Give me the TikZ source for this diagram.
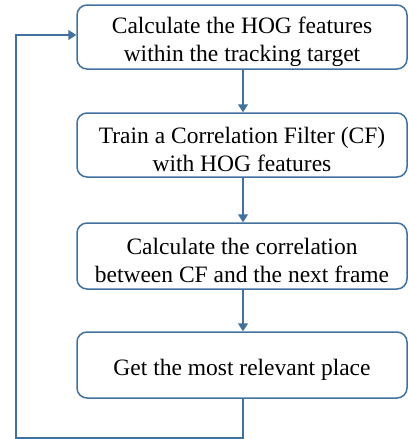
\documentclass[tikz,border=0pt]{standalone}
\usepackage{fontspec}
\setmainfont{Liberation Serif}
\usetikzlibrary{arrows.meta}
\definecolor{boxblue}{HTML}{41719C}
\newcommand\mydn{\rule{0pt}{26pt}}
\begin{document}
\begin{tikzpicture}[x=1pt,y=1pt,
  stepbox/.style={draw=boxblue,line width=1.5pt,rounded corners=10pt,minimum width=330pt,minimum height=64pt,align=center,inner sep=0pt,font=\fontsize{23.5}{28}\selectfont},
  conn/.style={draw=boxblue,line width=1.5pt,-{Triangle[width=10pt,length=8pt]}}]
\useasboundingbox (0,0) rectangle (408,-439);
\node[stepbox] (a) at (242,-37) {\mydn Calculate the HOG features\\within the tracking target};
\node[stepbox] (b) at (242,-145) {\mydn Train a Correlation Filter (CF)\\with HOG features};
\node[stepbox,minimum height=66pt] (c) at (242,-256) {\mydn Calculate the correlation\\between CF and the next frame};
\node[stepbox,minimum height=66pt] (d) at (242,-365) {\mydn Get the most relevant place};
\coordinate (p1) at (243,-438);
\coordinate (p2) at (16,-438);
\coordinate (p3) at (16,-35);
\draw[conn] (a.south -| p1) -- (b.north -| p1);
\draw[conn] (b.south -| p1) -- (c.north -| p1);
\draw[conn] (c.south -| p1) -- (d.north -| p1);
\draw[conn] (d.south -| p1) -- (p1) -- (p2) -- (p3) -- (a.west |- p3);
\end{tikzpicture}
\end{document}
